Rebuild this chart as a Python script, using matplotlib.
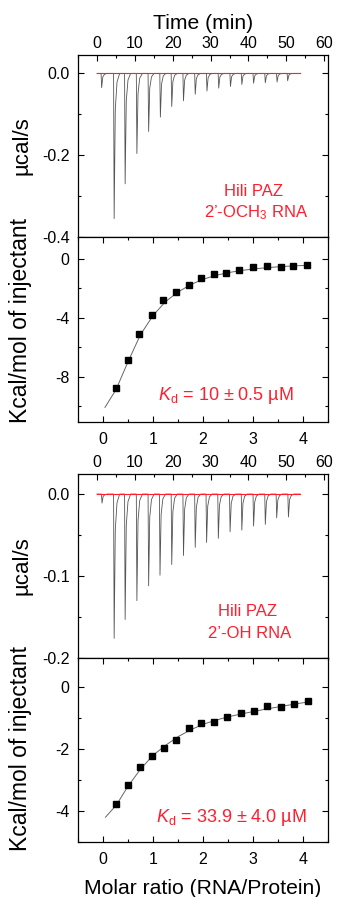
import matplotlib
matplotlib.use("Agg")
import matplotlib.pyplot as plt
from matplotlib.ticker import MultipleLocator, FixedLocator

plt.rcParams['font.family'] = ['Liberation Sans', 'DejaVu Sans']
plt.rcParams['mathtext.fontset'] = 'custom'
plt.rcParams['mathtext.rm'] = 'Liberation Sans'
plt.rcParams['mathtext.it'] = 'Liberation Sans:italic'

# ---------------- data ----------------
# Panel A (2'-OCH3 RNA) raw thermogram: injection times (min) and peak depths (ucal/s)
inj_time_a = [1.1, 4.4, 7.3, 10.4, 13.5, 16.6, 19.6, 22.7, 25.8, 28.9, 32.0, 35.1, 38.1, 41.2, 44.3, 47.4, 50.2]
peak_a = [-0.035, -0.355, -0.27, -0.196, -0.142, -0.107, -0.081, -0.067, -0.051, -0.043,
          -0.036, -0.032, -0.027, -0.024, -0.023, -0.021, -0.018]
# Panel A integrated heats
ratio_a = [0.26, 0.50, 0.73, 0.98, 1.21, 1.47, 1.72, 1.97, 2.22, 2.47, 2.73, 3.00, 3.27, 3.55, 3.80, 4.07]
heat_a = [-8.8, -6.87, -5.12, -3.81, -2.77, -2.22, -1.75, -1.29, -1.02, -0.93, -0.77, -0.54, -0.45, -0.54, -0.45, -0.41]
fit_x_a = [0.04, 0.26, 0.5, 0.75, 1.0, 1.25, 1.5, 1.75, 2.0, 2.25, 2.5, 2.75, 3.0, 3.25, 3.5, 3.75, 4.07]
fit_y_a = [-10.1, -8.9, -7.0, -5.15, -3.85, -2.9, -2.25, -1.75, -1.38, -1.12, -0.93, -0.79, -0.68, -0.6, -0.53, -0.48, -0.43]

# Panel B (2'-OH RNA) raw thermogram
inj_time_b = [1.2, 4.4, 7.3, 10.4, 13.5, 16.5, 19.6, 22.7, 25.8, 28.8, 31.9, 35.0, 38.1, 41.2, 44.3, 47.3, 50.4]
peak_b = [-0.011, -0.176, -0.153, -0.130, -0.112, -0.099, -0.086, -0.075, -0.065, -0.059,
          -0.054, -0.046, -0.044, -0.039, -0.037, -0.029, -0.028]
ratio_b = [0.26, 0.50, 0.74, 0.98, 1.22, 1.47, 1.73, 1.97, 2.23, 2.49, 2.75, 3.02, 3.28, 3.55, 3.81, 4.09]
heat_b = [-3.78, -3.17, -2.59, -2.23, -1.96, -1.72, -1.33, -1.17, -1.12, -0.95, -0.82, -0.77, -0.62, -0.65, -0.54, -0.44]
fit_x_b = [0.05, 0.27, 0.5, 0.75, 1.0, 1.25, 1.5, 1.75, 2.0, 2.25, 2.5, 2.75, 3.0, 3.25, 3.5, 3.75, 4.09]
fit_y_b = [-4.2, -3.8, -3.2, -2.65, -2.2, -1.88, -1.6, -1.38, -1.2, -1.07, -0.96, -0.87, -0.79, -0.71, -0.64, -0.57, -0.48]

run_end = 53.6

RED = '#ff1f2e'
GRAY = '#555555'

# peak shape (time offsets, fraction of depth) - styling of each injection spike
shape_dt = [0.0, 0.15, 0.45, 0.9, 1.6]
shape_fr = [0.0, 1.0, 0.25, 0.06, 0.0]


def trace(times, peaks):
    xs, ys = [0.0], [0.0]
    for t, d in zip(times, peaks):
        for dt, fr in zip(shape_dt, shape_fr):
            xs.append(t + dt)
            ys.append(d * fr)
    xs.append(run_end)
    ys.append(0.0)
    return xs, ys


fig = plt.figure(figsize=(3.39, 8.97), dpi=100)
L, W = 0.230, 0.7376
axA1 = fig.add_axes([L, 0.7358, W, 0.2029])
axA2 = fig.add_axes([L, 0.5295, W, 0.2063])
axB1 = fig.add_axes([L, 0.2664, W, 0.2052])
axB2 = fig.add_axes([L, 0.0613, W, 0.2051])

TS = 11.5
XLS = 15.2
YLS = 16.5
NOTE = 12


def style(ax):
    ax.tick_params(which='both', direction='in', top=True, right=True, labelsize=TS)
    ax.tick_params(axis='y', pad=6)
    ax.tick_params(which='major', length=4, width=0.8)
    ax.tick_params(which='minor', length=2.5, width=0.8)
    for s in ax.spines.values():
        s.set_linewidth(0.9)


# ---- thermogram panels ----
for ax, times, peaks, ylim, major, minor, labels in [
        (axA1, inj_time_a, peak_a, (-0.4, 0.045), [0.0, -0.2, -0.4], [-0.1, -0.3], ['0.0', '-0.2', '-0.4']),
        (axB1, inj_time_b, peak_b, (-0.2, 0.0245), [0.0, -0.1, -0.2], [-0.05, -0.15], ['0.0', '-0.1', '-0.2'])]:
    xs, ys = trace(times, peaks)
    ax.plot(xs, ys, color=GRAY, lw=0.6)
    ax.plot([0, run_end], [0, 0], color=RED, lw=0.8)
    ax.set_xlim(-5, 61)
    ax.set_ylim(*ylim)
    style(ax)
    ax.xaxis.set_major_locator(MultipleLocator(10))
    ax.xaxis.set_minor_locator(MultipleLocator(5))
    ax.yaxis.set_major_locator(FixedLocator(major))
    ax.yaxis.set_minor_locator(FixedLocator(minor))
    ax.set_yticklabels(labels)
    ax.tick_params(axis='x', which='both', bottom=False, labelbottom=False, labeltop=True, pad=3)
    ax.set_ylabel('µcal/s', fontsize=16)
    ax.yaxis.set_label_coords(-0.18, 0.5)

axA1.set_xlabel('Time (min)', fontsize=XLS, labelpad=5)
axA1.xaxis.set_label_position('top')

fig.text(253 / 339, 1 - 191 / 897, 'Hili PAZ', color=RED, fontsize=NOTE, ha='center', va='center')
fig.text(256 / 339, 1 - 213 / 897, '2’-OCH$_{\\mathregular{3}}$ RNA', color=RED, fontsize=NOTE,
         ha='center', va='center')
fig.text(248 / 339, 1 - 612 / 897, 'Hili PAZ', color=RED, fontsize=NOTE, ha='center', va='center')
fig.text(250 / 339, 1 - 633 / 897, '2’-OH RNA', color=RED, fontsize=NOTE, ha='center', va='center')

# ---- integrated heat panels ----
for ax, rx, hy, fx, fy, ylim, major, minor, kd, kdpos, lab_y in [
        (axA2, ratio_a, heat_a, fit_x_a, fit_y_a, (-11.1, 1.5), [0, -4, -8], [-2, -6, -10],
         '$\\mathit{K}_{\\mathregular{d}}$ = 10 ± 0.5 µM', (226, 396), 0.55),
        (axB2, ratio_b, heat_b, fit_x_b, fit_y_b, (-5.0, 0.94), [0, -2, -4], [-1, -3, -5],
         '$\\mathit{K}_{\\mathregular{d}}$ = 33.9 ± 4.0 µM', (231, 817), 0.51)]:
    ax.plot(fx, fy, color='#666666', lw=0.7, zorder=2)
    ax.plot(rx, hy, 's', color='black', ms=5, zorder=3)
    ax.set_xlim(-0.5, 4.5)
    ax.set_ylim(*ylim)
    style(ax)
    ax.tick_params(axis='x', pad=7)
    ax.xaxis.set_major_locator(MultipleLocator(1))
    ax.xaxis.set_minor_locator(MultipleLocator(0.5))
    ax.yaxis.set_major_locator(FixedLocator(major))
    ax.yaxis.set_minor_locator(FixedLocator(minor))
    ax.set_yticklabels([str(v) for v in major])
    ax.set_ylabel('Kcal/mol of injectant', fontsize=YLS)
    ax.yaxis.set_label_coords(-0.185, lab_y)
    fig.text(kdpos[0] / 339, 1 - kdpos[1] / 897, kd, color=RED, fontsize=13, ha='center', va='center')

axB2.set_xlabel('Molar ratio (RNA/Protein)', fontsize=XLS, labelpad=9)

fig.savefig('out.png', dpi=100)
